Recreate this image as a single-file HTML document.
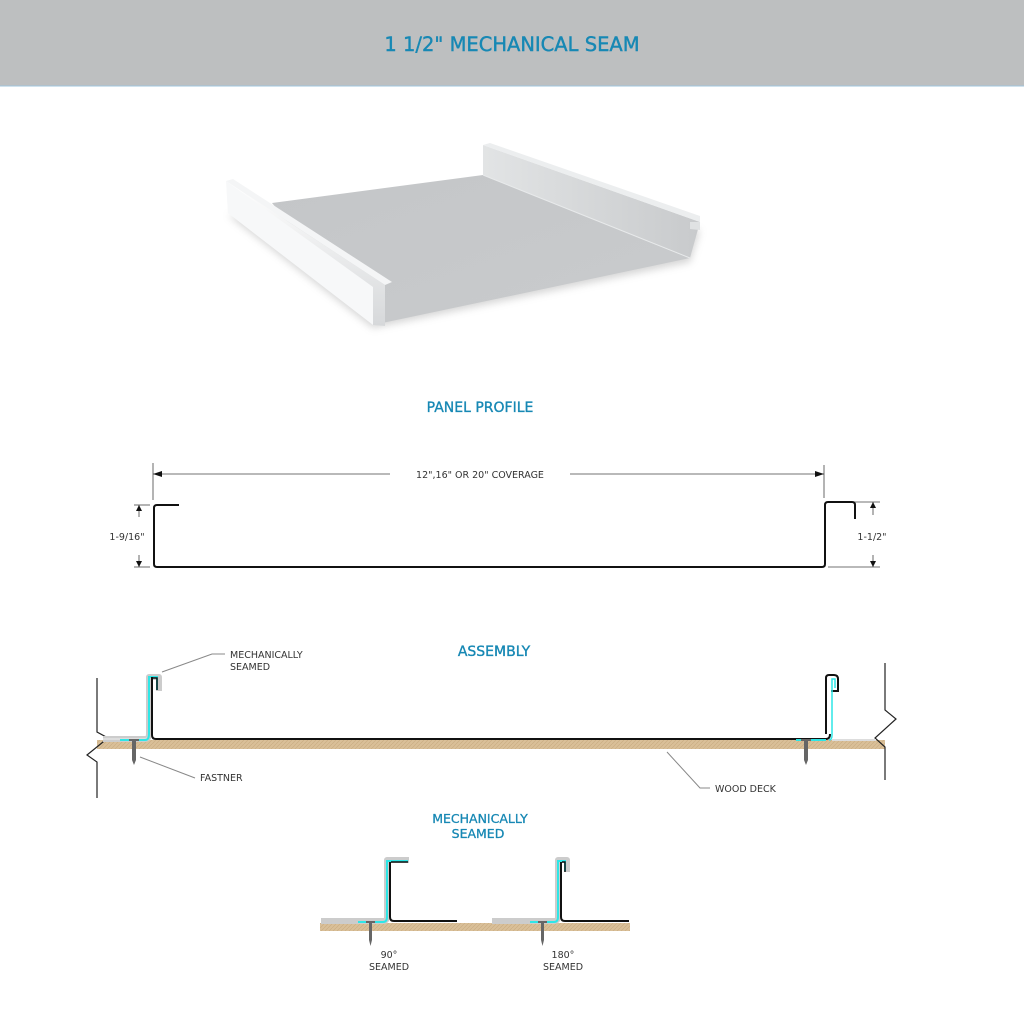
<!DOCTYPE html>
<html><head><style>
body{margin:0;width:1024px;height:1024px;background:#fff;overflow:hidden;font-family:"DejaVu Sans",sans-serif}
</style></head><body>
<svg width="1024" height="1024" viewBox="0 0 1024 1024" xmlns="http://www.w3.org/2000/svg" font-family="'DejaVu Sans','Liberation Sans',sans-serif">
<defs>
<linearGradient id="fl" x1="0" y1="0" x2="1" y2="1"><stop offset="0" stop-color="#c4c6c8"/><stop offset="1" stop-color="#c9cbcd"/></linearGradient>
<linearGradient id="lw" x1="0" y1="0" x2="0" y2="1"><stop offset="0" stop-color="#ffffff"/><stop offset="1" stop-color="#d6d8da"/></linearGradient>
<linearGradient id="rw" x1="0" y1="0" x2="1" y2="0"><stop offset="0" stop-color="#e2e4e5"/><stop offset="1" stop-color="#c8cacc"/></linearGradient>
<filter id="sh" x="-20%" y="-20%" width="140%" height="140%"><feGaussianBlur stdDeviation="4"/></filter>
<pattern id="wood" width="4" height="4" patternUnits="userSpaceOnUse"><rect width="4" height="4" fill="#d9bf98"/><path d="M0 4L4 0" stroke="#c9ab80" stroke-width="0.6"/></pattern>
</defs>
<rect x="0" y="0" width="1024" height="86" fill="#bdbfc0"/>
<line x1="0" y1="86" x2="1024" y2="86" stroke="#9fc6de" stroke-width="1"/>
<text x="512" y="51" text-anchor="middle" font-size="19.5" fill="#1788b4" stroke="#1788b4" stroke-width="0.4">1 1/2" MECHANICAL SEAM</text>

<polygon points="228,215 373,328 690,262 700,230" fill="#888" opacity="0.35" filter="url(#sh)"/>
<polygon points="272,203 483,175 690,258 373,325" fill="url(#fl)"/>
<polygon points="483,145 700,222 690,258 483,175" fill="url(#rw)"/>
<polygon points="483,145 490,143 700,216 700,222" fill="#eceeef"/>
<polygon points="690,222 700,222 700,230 690,229" fill="#e0e2e3"/>
<line x1="483" y1="175" x2="690" y2="258" stroke="#e8eaeb" stroke-width="1"/>
<polygon points="226,181 385,285 385,326 373,325 228,213" fill="url(#lw)"/>
<polygon points="226,181 233,179 392,282 385,285" fill="#f4f5f6"/>
<polygon points="226,181 228,213 373,325 373,287" fill="#f7f8f9"/>

<text x="480" y="412" text-anchor="middle" font-size="14" fill="#1788b4" stroke="#1788b4" stroke-width="0.35">PANEL PROFILE</text>
<g stroke="#444" stroke-width="0.8" fill="none">
<line x1="153" y1="463" x2="153" y2="500"/>
<line x1="824" y1="465" x2="824" y2="498"/>
<line x1="153" y1="474" x2="390" y2="474"/>
<line x1="570" y1="474" x2="824" y2="474"/>
<line x1="134" y1="505" x2="150" y2="505"/>
<line x1="134" y1="567" x2="150" y2="567"/>
<line x1="139" y1="505" x2="139" y2="517"/>
<line x1="139" y1="555" x2="139" y2="567"/>
<line x1="830" y1="502" x2="880" y2="502"/>
<line x1="828" y1="567" x2="880" y2="567"/>
<line x1="873" y1="502" x2="873" y2="515"/>
<line x1="873" y1="555" x2="873" y2="567"/>
</g>
<g fill="#111">
<polygon points="153,474 162,471 162,477"/>
<polygon points="824,474 815,471 815,477"/>
<polygon points="139,505 136,511 142,511"/>
<polygon points="139,567 136,561 142,561"/>
<polygon points="873,502 870,508 876,508"/>
<polygon points="873,567 870,561 876,561"/>
</g>
<text x="480" y="478" text-anchor="middle" font-size="9.5" fill="#333">12",16" OR 20" COVERAGE</text>
<text x="127" y="540" text-anchor="middle" font-size="9.5" fill="#333">1-9/16"</text>
<text x="872" y="540" text-anchor="middle" font-size="9.5" fill="#333">1-1/2"</text>
<path d="M179 505 H157 Q154 505 154 508 V564 Q154 567 157 567 H822 Q825 567 825 564 V505 Q825 502 828 502 H852 Q855 502 855 505 V519" fill="none" stroke="#111" stroke-width="2"/>

<text x="494" y="656" text-anchor="middle" font-size="14" fill="#1788b4" stroke="#1788b4" stroke-width="0.35">ASSEMBLY</text>
<rect x="97" y="740" width="788" height="9" fill="url(#wood)"/>
<polyline points="97,678 97,732 108,738 87,755 97,762 97,798" fill="none" stroke="#222" stroke-width="1.2"/>
<polyline points="885,663 885,710 896,719 875,738 885,747 885,780" fill="none" stroke="#222" stroke-width="1.2"/>
<path d="M103 739 H145 Q149 739 149 734 V677 H159 V691" fill="none" stroke="#ccc" stroke-width="6" stroke-linejoin="round"/>
<path d="M103 739 H145 Q149 739 149 734" fill="none" stroke="#ddd" stroke-width="2"/>
<path d="M120 740 H145 Q149 740 149 734 V677 H157 V690" fill="none" stroke="#2ee6e6" stroke-width="2"/>
<path d="M152 677 V735 Q152 739 156 739 H826 Q830 739 830 734" fill="none" stroke="#111" stroke-width="2"/>
<path d="M152 678 H157 V690" fill="none" stroke="#111" stroke-width="1.5"/>
<path d="M826 734 V678 Q826 675 829 675 H834 Q838 675 838 679 V691 H831" fill="none" stroke="#111" stroke-width="2"/>
<path d="M829 740 Q832 740 832 735 V679 H835 V688" fill="none" stroke="#2ee6e6" stroke-width="1.5"/>
<path d="M832 740 H876" fill="none" stroke="#ddd" stroke-width="2"/>
<path d="M796 740 H826" fill="none" stroke="#2ee6e6" stroke-width="2"/>
<g fill="#666"><rect x="129" y="739" width="10" height="2"/><polygon points="132,741 136,741 136,760 134,765 132,760"/>
<rect x="801" y="739" width="10" height="2"/><polygon points="804,741 808,741 808,760 806,765 804,760"/></g>
<polyline points="162,672 212,654 225,654" fill="none" stroke="#888" stroke-width="1"/>
<polyline points="140,757 195,778" fill="none" stroke="#888" stroke-width="1"/>
<polyline points="667,752 700,788 710,788" fill="none" stroke="#888" stroke-width="1"/>
<text x="230" y="658" font-size="9.5" fill="#333">MECHANICALLY</text>
<text x="230" y="670" font-size="9.5" fill="#333">SEAMED</text>
<text x="200" y="781" font-size="9.5" fill="#333">FASTNER</text>
<text x="715" y="792" font-size="9.5" fill="#333">WOOD DECK</text>

<text x="480" y="823" text-anchor="middle" font-size="12.5" fill="#1788b4" stroke="#1788b4" stroke-width="0.3">MECHANICALLY</text>
<text x="478" y="838" text-anchor="middle" font-size="12.5" fill="#1788b4" stroke="#1788b4" stroke-width="0.3">SEAMED</text>
<rect x="320" y="923" width="310" height="8" fill="url(#wood)"/>
<path d="M321 921 H383 Q387 921 387 917 V860 H409" fill="none" stroke="#ccc" stroke-width="6" stroke-linejoin="round"/>
<path d="M358 922 H383 Q387 922 387 917 V861 H408" fill="none" stroke="#2ee6e6" stroke-width="2"/>
<path d="M390 862 V917 Q390 921 394 921 H457" fill="none" stroke="#111" stroke-width="2"/>
<path d="M391 862 H408" fill="none" stroke="#111" stroke-width="1.5"/>
<path d="M492 921 H554 Q558 921 558 917 V860 H567 V872" fill="none" stroke="#ccc" stroke-width="6" stroke-linejoin="round"/>
<path d="M530 922 H554 Q558 922 558 917 V861 H565 V871" fill="none" stroke="#2ee6e6" stroke-width="2"/>
<path d="M561 862 V917 Q561 921 565 921 H629" fill="none" stroke="#111" stroke-width="2"/>
<path d="M562 862 H565 V872" fill="none" stroke="#111" stroke-width="1.5"/>
<g fill="#666"><rect x="366" y="921" width="9" height="2"/><polygon points="369,923 372,923 372,940 370.5,946 369,940"/>
<rect x="538" y="921" width="9" height="2"/><polygon points="541,923 544,923 544,940 542.5,946 541,940"/></g>
<text x="389" y="958" text-anchor="middle" font-size="9.5" fill="#333">90°</text>
<text x="389" y="970" text-anchor="middle" font-size="9.5" fill="#333">SEAMED</text>
<text x="563" y="958" text-anchor="middle" font-size="9.5" fill="#333">180°</text>
<text x="563" y="970" text-anchor="middle" font-size="9.5" fill="#333">SEAMED</text>
</svg>
</body></html>
